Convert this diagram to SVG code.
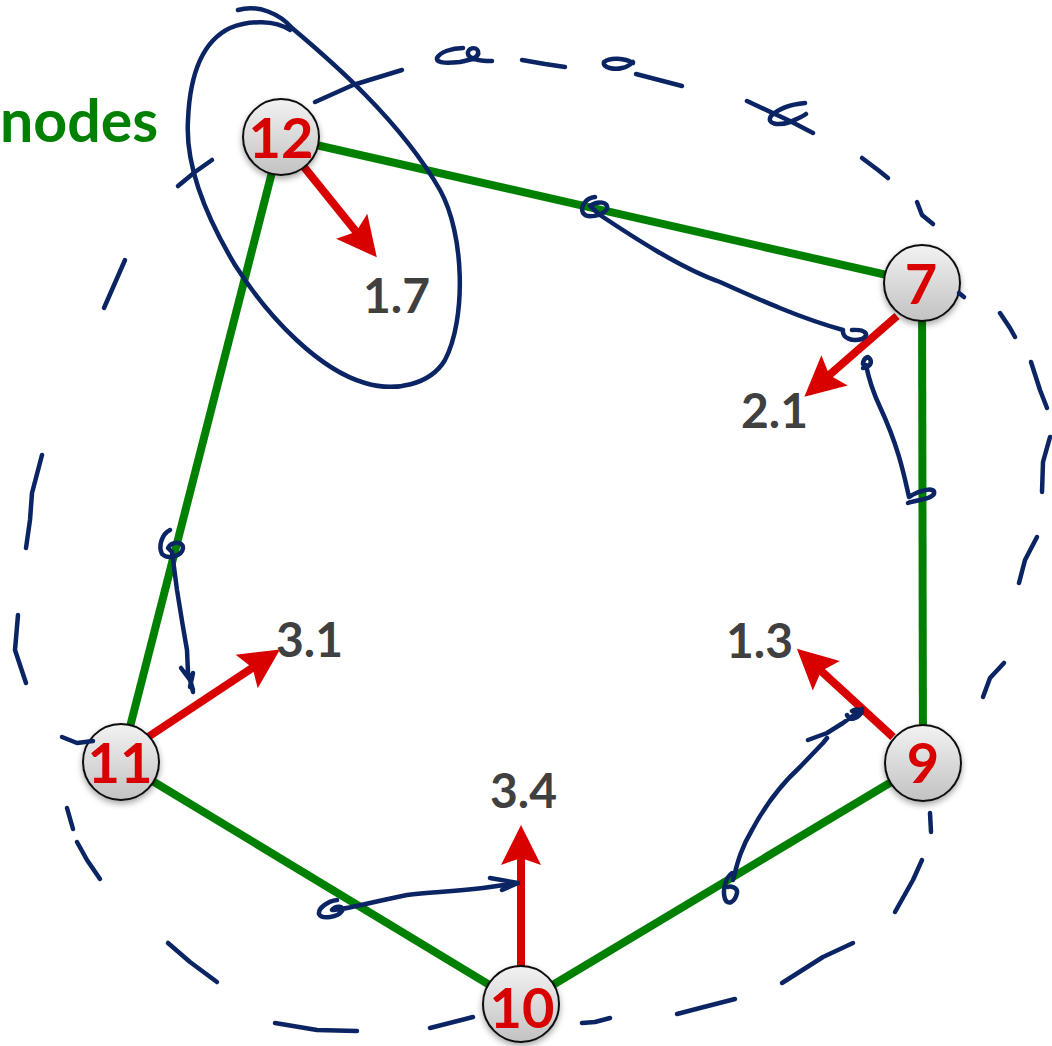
<svg xmlns="http://www.w3.org/2000/svg" width="1052" height="1046" viewBox="0 0 1052 1046">
<style>
.edge{stroke:#008000;stroke-width:8;fill:none}
.vec{stroke:#d90000;stroke-width:8;fill:none;marker-end:url(#head)}
.node circle{fill:url(#ng);stroke:#111;stroke-width:2;filter:url(#sh)}
.nl{font-family:Lato,"Open Sans",sans-serif;font-weight:bold;font-size:56px;fill:#d90000;text-anchor:middle}
.val{font-family:Lato,"Open Sans",sans-serif;font-weight:bold;font-size:48px;fill:#404040}
.ink{stroke:#0b2463;stroke-width:4.5;fill:none;stroke-linecap:round;stroke-linejoin:round}
</style>
<defs>
<linearGradient id="ng" x1="0" y1="0" x2="0" y2="1">
<stop offset="0" stop-color="#f2f2f2"/>
<stop offset="1" stop-color="#c2c2c2"/>
</linearGradient>
<filter id="sh" x="-30%" y="-30%" width="160%" height="170%">
<feDropShadow dx="0" dy="3" stdDeviation="3" flood-color="#000" flood-opacity="0.35"/>
</filter>
<marker id="head" markerUnits="userSpaceOnUse" viewBox="-12 -22 44 44" markerWidth="44" markerHeight="44" refX="0" refY="0" orient="auto" overflow="visible">
<path d="M30,0 L-10,-20 L-3,0 L-10,20 Z" fill="#d90000"/>
</marker>
</defs>
<rect width="1052" height="1046" fill="#fff"/>

<text x="0" y="142" font-family="Lato,'Open Sans',sans-serif" font-weight="bold" font-size="59" fill="#008000">nodes</text>

<g id="edges">
<line class="edge" x1="281" y1="137" x2="922" y2="283"/>
<line class="edge" x1="922" y1="283" x2="923" y2="763"/>
<line class="edge" x1="923" y1="763" x2="521" y2="1004"/>
<line class="edge" x1="521" y1="1004" x2="121" y2="762"/>
<line class="edge" x1="121" y1="762" x2="281" y2="137"/>
</g>

<g id="vectors">
<line class="vec" x1="300" y1="162" x2="358" y2="234"/>
<line class="vec" x1="897" y1="316" x2="827" y2="377"/>
<line class="vec" x1="148" y1="737" x2="255" y2="666"/>
<line class="vec" x1="521" y1="968" x2="521" y2="855"/>
<line class="vec" x1="893" y1="737" x2="819" y2="669"/>
</g>

<g id="node-12" class="node"><circle cx="281" cy="137" r="38"/><text class="nl" x="281" y="158">12</text></g>
<g id="node-7" class="node"><circle cx="922" cy="283" r="38"/><text class="nl" x="921" y="304">7</text></g>
<g id="node-9" class="node"><circle cx="923" cy="763" r="38"/><text class="nl" x="923" y="783">9</text></g>
<g id="node-10" class="node"><circle cx="521" cy="1004" r="38"/><text class="nl" x="522" y="1028">10</text></g>
<g id="node-11" class="node"><circle cx="121" cy="762" r="38"/><text class="nl" x="120" y="783">11</text></g>

<g id="values">
<text class="val" x="363" y="313">1.7</text>
<text class="val" x="741" y="428">2.1</text>
<text class="val" x="276" y="657">3.1</text>
<text class="val" x="490" y="808">3.4</text>
<text class="val" x="726" y="658">1.3</text>
</g>

<g id="ink">
<path class="ink" d="M238,10 C258,4 280,14 292,28 C330,60 400,120 440,190 C465,235 466,320 445,360 C430,385 395,392 365,383 C320,370 270,320 235,265 C205,215 185,165 188,120 C190,70 205,40 230,28 C250,20 275,20 290,30"/>
<path class="ink" d="M178,186 L195,172 L212,160"/>
<path class="ink" d="M315,102 L353,85 L402,70"/>
<path class="ink" d="M463,48 C452,48 440,52 437,58 C436,64 450,63 460,62 C470,60 480,58 478,51 C476,46 467,48 468,54 C469,59 480,61 492,61"/>
<path class="ink" d="M522,60 L545,64 L565,67"/>
<path class="ink" d="M633,63 C625,58 610,57 604,62 C602,68 615,70 622,68 C627,67 630,65 633,62 M636,74 L682,86"/>
<path class="ink" d="M747,101 L790,121 L813,133 M805,103 C795,104 780,107 771,116 C766,124 778,126 790,122 C797,119 802,117 806,114"/>
<path class="ink" d="M862,158 L878,170 L888,178"/>
<path class="ink" d="M917,202 L922,215 L933,224"/>
<path class="ink" d="M959,293 L964,297"/>
<path class="ink" d="M1000,313 L1010,328 L1015,337"/>
<path class="ink" d="M1031,362 L1040,390 L1047,408"/>
<path class="ink" d="M1050,437 L1043,462 L1042,492"/>
<path class="ink" d="M1037,537 L1025,560 L1019,583"/>
<path class="ink" d="M1004,663 L990,678 L983,697"/>
<path class="ink" d="M930,813 L931,832"/>
<path class="ink" d="M922,860 L913,880 L895,912"/>
<path class="ink" d="M853,943 L823,957 L782,983"/>
<path class="ink" d="M735,999 L700,1008 L677,1014"/>
<path class="ink" d="M610,1018 L595,1022 L582,1023"/>
<path class="ink" d="M430,1028 L473,1017"/>
<path class="ink" d="M275,1023 L317,1030 L357,1031"/>
<path class="ink" d="M168,943 L190,962 L217,982"/>
<path class="ink" d="M77,842 L87,860 L100,879"/>
<path class="ink" d="M67,808 L73,829"/>
<path class="ink" d="M62,737 L77,743 L93,741"/>
<path class="ink" d="M18,615 L15,650 L26,683"/>
<path class="ink" d="M42,455 L32,493 L30,520 L26,548"/>
<path class="ink" d="M125,260 L104,308"/>
<path class="ink" d="M595,197 C586,198 580,206 583,213 C587,219 602,216 607,209 C609,202 598,200 590,206 L600,215 C630,235 680,268 720,282 C760,300 800,318 843,330 C842,338 852,342 862,339 C870,335 866,329 852,330"/>
<path class="ink" d="M908,503 C915,500 930,500 934,494 C936,486 920,490 909,497 C905,480 900,450 880,407 C872,390 868,375 866,365 C860,366 864,358 868,357 C872,360 873,366 863,368"/>
<path class="ink" d="M170,530 C162,534 158,546 162,554 C168,560 182,556 183,548 C183,541 172,541 168,548 L172,552 L177,590 L183,627 L187,650 L188,673 L193,690 M181,668 L190,680 L193,692 M193,673 L190,687"/>
<path class="ink" d="M337,900 C328,901 318,908 319,914 C322,920 338,917 342,911 C345,906 336,905 332,910 C345,910 367,903 407,895 C430,892 450,892 483,888 L518,883 M490,878 L518,883 L502,890"/>
<path class="ink" d="M732,873 C726,877 722,890 725,899 C728,906 735,902 737,893 C738,887 730,886 728,887 M733,880 C737,865 740,850 752,830 C760,815 775,790 800,767 L823,743 L827,738 M808,740 L827,733 L843,723 L862,709 M847,715 C850,722 858,718 862,712 C860,709 855,709 852,711"/>
</g>
</svg>
